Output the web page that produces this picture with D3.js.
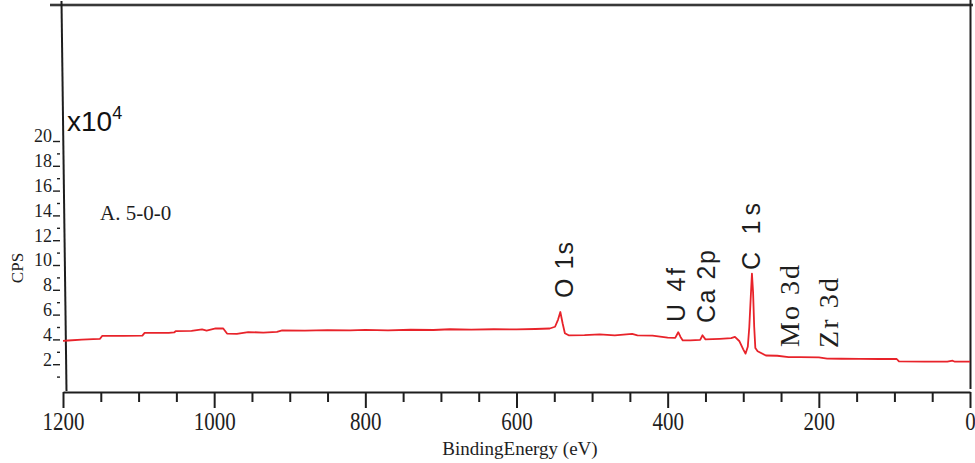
<!DOCTYPE html>
<html>
<head>
<meta charset="utf-8">
<script src="https://cdn.jsdelivr.net/npm/d3@7"></script>
<style>
  html, body { margin: 0; padding: 0; background: #fff; }
  svg { display: block; }
</style>
</head>
<body>
<svg id="chart" width="975" height="463"></svg>
<script>
// ---- data (binding energy in eV, counts in units of 10^4 CPS) ----
const energy = [1200,1193,1175,1160,1151,1148,1120,1095,1092,1060,1053,1051,1030,1016,1010,998,988,983,970,955,935,917,910,880,850,820,800,770,740,710,688,660,630,600,575,556,549,545,542,539,536,531,510,490,470,447,440,420,400,390,386,383,380,370,357,354,350,331,316,311,305,300,297,294,292,290,288.5,287,285.5,284,281,270,255,240,225,200,189,170,146,120,97,94,60,30,23,20,0];
const cps    = [3.88,3.91,3.98,4.02,4.05,4.29,4.29,4.31,4.53,4.53,4.56,4.66,4.68,4.80,4.70,4.88,4.88,4.47,4.45,4.59,4.55,4.60,4.72,4.71,4.74,4.72,4.77,4.73,4.78,4.76,4.82,4.79,4.82,4.81,4.84,4.88,5.02,5.60,6.21,5.30,4.50,4.33,4.34,4.40,4.33,4.45,4.33,4.31,4.15,4.12,4.58,4.20,3.92,3.92,3.96,4.33,4.00,4.05,4.10,4.20,3.85,3.20,2.85,3.40,5.00,7.50,9.31,7.80,5.00,3.30,3.05,2.70,2.68,2.57,2.57,2.55,2.45,2.44,2.43,2.42,2.42,2.22,2.20,2.20,2.28,2.20,2.20];
const xMajorTicks = [1200,1000,800,600,400,200,0];
const yMajorTicks = [2,4,6,8,10,12,14,16,18,20];
const peakNames    = ["O 1s","U 4f","Ca 2p","C 1s","Mo 3d","Zr 3d"];
const peakEnergies = [537,389,349,290,239,188];
const sampleName = "A. 5-0-0";

// ---- layout ----
const svg = d3.select("#chart");
const x = d3.scaleLinear().domain([1200, 0]).range([63, 970]);
const y = d3.scaleLinear().domain([0, 20]).range([389, 141]);
const axisY = 392;
const ink = "#1e1e1e";
const serif = "Liberation Serif, Times New Roman, serif";
const sans = "Liberation Sans, Arial, sans-serif";

// frame
svg.append("line").attr("x1", 50).attr("y1", 5).attr("x2", 973).attr("y2", 5)
  .attr("stroke", "#888").attr("stroke-width", 3.2);
svg.append("line").attr("x1", 50).attr("y1", 5).attr("x2", 973).attr("y2", 5)
  .attr("stroke", ink).attr("stroke-width", 1.6);
svg.append("line").attr("x1", 61.5).attr("y1", 1).attr("x2", 66.5).attr("y2", 391)
  .attr("stroke", ink).attr("stroke-width", 2);
svg.append("line").attr("x1", 970.5).attr("y1", 0).attr("x2", 970.5).attr("y2", 389)
  .attr("stroke", ink).attr("stroke-width", 2);

// x axis (major + minor)
const xMinor = d3.range(1200, -1, -50).filter(v => !xMajorTicks.includes(v));
const gxMinor = svg.append("g").attr("transform", `translate(0,${axisY})`)
  .call(d3.axisBottom(x).tickValues(xMinor).tickSize(10).tickFormat(""));
const gx = svg.append("g").attr("transform", `translate(0,${axisY})`)
  .call(d3.axisBottom(x).tickValues(xMajorTicks).tickSize(16).tickPadding(8)
        .tickSizeOuter(0).tickFormat(d3.format("d")));
[gx, gxMinor].forEach(g => {
  g.selectAll("path.domain").attr("stroke", ink).attr("stroke-width", 2);
  g.selectAll(".tick line").attr("stroke", ink).attr("stroke-width", 2);
});
gxMinor.select("path.domain").remove();
const xs = 1.2;
gx.selectAll(".tick text").style("font-family", serif).style("font-size", "21px")
  .attr("fill", ink).attr("transform", `scale(1,${xs})`).attr("y", 38 / xs - 14.9);

// y axis ticks (labels with trailing tick marks)
const gy = svg.append("g").attr("transform", "translate(60,0)")
  .call(d3.axisLeft(y).tickValues(yMajorTicks).tickSize(7).tickPadding(1));
gy.select("path.domain").remove();
gy.selectAll(".tick line").attr("stroke", ink).attr("stroke-width", 1.4);
gy.selectAll(".tick text").style("font-family", serif).style("font-size", "18px")
  .attr("fill", ink).attr("dy", "0.05em");
const yMinor = d3.range(1, 20, 2);
const gyMinor = svg.append("g").attr("transform", "translate(60,0)")
  .call(d3.axisLeft(y).tickValues(yMinor).tickSize(3).tickFormat(""));
gyMinor.select("path.domain").remove();
gyMinor.selectAll(".tick line").attr("stroke", ink).attr("stroke-width", 1.4);

// axis titles
svg.append("text").attr("x", 520).attr("y", 455).attr("text-anchor", "middle")
  .style("font-family", serif).style("font-size", "19px").attr("fill", ink)
  .text("BindingEnergy  (eV)");
svg.append("text").attr("transform", "translate(23,268) rotate(-90)")
  .attr("text-anchor", "middle").style("font-family", serif).style("font-size", "17px")
  .attr("fill", ink).text("CPS");

// multiplier
const mult = svg.append("text").attr("x", 67).attr("y", 131)
  .style("font-family", sans).style("font-size", "28px").attr("fill", "#111");
mult.append("tspan").text("x10");
mult.append("tspan").style("font-size", "18px").attr("dy", -12).text("4");

// sample name
svg.append("text").attr("x", 100).attr("y", 220)
  .style("font-family", serif).style("font-size", "21px").attr("fill", ink)
  .text(sampleName);

// spectrum
const line = d3.line().x((d, i) => x(energy[i])).y((d, i) => y(cps[i]));
svg.append("path").datum(cps).attr("d", line)
  .attr("fill", "none").attr("stroke", "#e8232a").attr("stroke-width", 1.8)
  .attr("stroke-linejoin", "round");

// peak labels
const labelBase = [298, 322, 323, 270, 347, 348];
const labelLen = [56, 54, 73, 67, 82, 70];
const labelSerif = [false, false, false, false, true, true];
peakNames.forEach((name, i) => {
  svg.append("text")
    .attr("transform", `translate(${x(peakEnergies[i])},${labelBase[i]}) rotate(-90)`)
    .attr("dy", "0.36em")
    .style("font-family", labelSerif[i] ? serif : sans)
    .style("font-size", labelSerif[i] ? "28px" : "25px")
    .attr("fill", ink)
    .attr("textLength", labelLen[i])
    .text(name);
});
</script>
</body>
</html>
